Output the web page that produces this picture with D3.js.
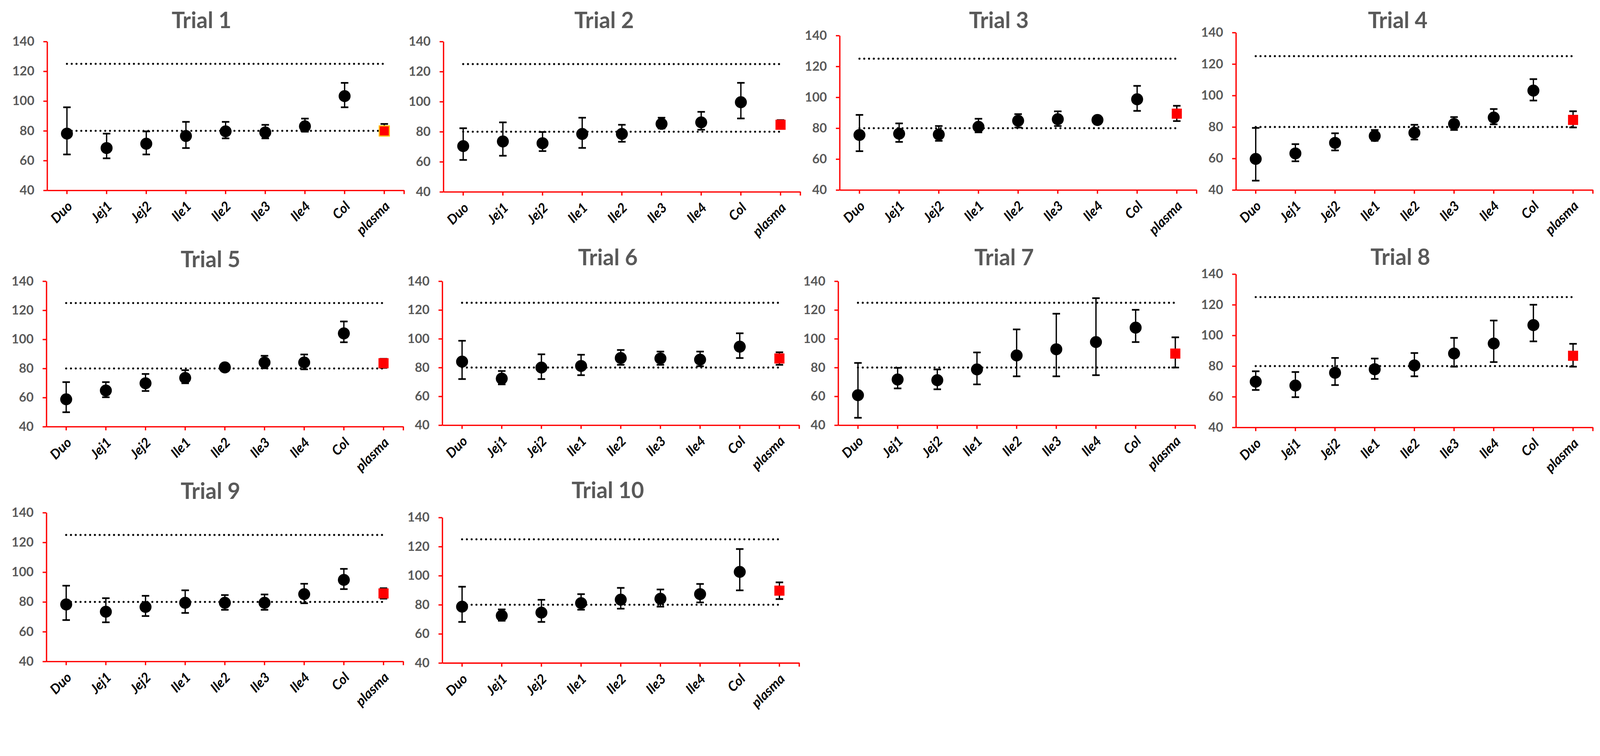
<!DOCTYPE html>
<html>
<head>
<meta charset="utf-8">
<script src="https://cdn.jsdelivr.net/npm/d3@7"></script>
<style>
  html, body { margin: 0; padding: 0; background: #ffffff; overflow: hidden; }
  #chart svg { display: block; width: 100vw; height: 100vh; }
</style>
</head>
<body>
<div id="chart"></div>
<script>
/* Categories and titles. */
const categories = ["Duo", "Jej1", "Jej2", "Ile1", "Ile2", "Ile3", "Ile4", "Col", "plasma"]
const trials = ["Trial 1", "Trial 2", "Trial 3", "Trial 4", "Trial 5",
  "Trial 6", "Trial 7", "Trial 8", "Trial 9", "Trial 10"]

/* Means per trial. */
const means = [
  [78.1, 68.4, 71.3, 76.5, 79.6, 78.9, 83.0, 103.3, 79.9],
  [70.4, 73.5, 72.3, 78.5, 78.5, 85.2, 86.2, 99.6, 84.6],
  [75.6, 76.4, 75.9, 80.9, 84.8, 85.8, 85.3, 98.7, 89.4],
  [59.7, 63.2, 69.9, 74.3, 76.3, 81.9, 86.0, 103.1, 84.5],
  [58.8, 64.8, 69.8, 73.5, 80.7, 84.1, 84.1, 104.1, 83.6],
  [84.1, 72.3, 80.0, 81.1, 86.6, 86.3, 85.5, 94.5, 86.3],
  [60.8, 71.7, 71.2, 78.7, 88.4, 92.7, 97.7, 107.7, 89.7],
  [69.8, 67.3, 75.6, 77.9, 80.4, 88.2, 94.7, 106.7, 86.7],
  [78.3, 73.4, 76.6, 79.4, 79.4, 79.4, 85.2, 94.8, 85.7],
  [78.7, 72.5, 74.6, 81.1, 83.5, 84.1, 87.3, 102.6, 89.7]
]

/* Upper end of each error bar. */
const upper = [
  [95.8, 78.1, 79.6, 86.0, 86.0, 84.0, 88.2, 112.2, 84.6],
  [82.3, 86.2, 79.8, 89.3, 84.6, 89.3, 93.2, 112.5, 87.7],
  [88.6, 83.1, 81.4, 86.1, 89.1, 90.9, 87.0, 107.4, 94.5],
  [79.4, 69.1, 76.0, 78.1, 81.4, 86.3, 91.4, 110.4, 90.0],
  [70.6, 70.6, 76.2, 78.8, 82.0, 88.7, 89.6, 112.3, 86.6],
  [98.6, 77.6, 89.2, 88.9, 92.2, 91.1, 91.1, 103.8, 90.6],
  [83.2, 79.8, 78.7, 90.5, 106.5, 117.4, 128.2, 120.1, 101.0],
  [76.6, 76.1, 85.3, 84.9, 88.5, 98.4, 109.7, 120.0, 94.5],
  [90.9, 82.5, 84.1, 87.8, 84.6, 85.0, 92.2, 102.2, 89.2],
  [92.4, 76.8, 83.4, 87.3, 91.6, 90.5, 94.3, 118.3, 95.4]
]

/* Lower end of each error bar. */
const lower = [
  [64.1, 61.5, 64.1, 68.4, 74.9, 74.9, 79.4, 95.8, 76.8],
  [61.2, 64.0, 67.1, 69.2, 73.3, 82.1, 81.3, 88.8, 81.9],
  [65.1, 71.1, 71.8, 77.3, 80.4, 81.4, 83.5, 91.2, 84.6],
  [45.9, 58.2, 65.1, 71.2, 72.0, 78.1, 81.7, 96.8, 79.7],
  [49.9, 60.2, 64.5, 69.8, 79.5, 80.1, 79.4, 98.0, 80.4],
  [72.0, 68.3, 72.0, 74.7, 81.9, 81.9, 80.9, 86.6, 81.9],
  [45.1, 65.5, 64.9, 68.3, 73.9, 73.9, 74.7, 97.7, 80.0],
  [64.4, 59.7, 67.6, 71.6, 73.3, 79.6, 82.6, 96.1, 79.6],
  [67.8, 66.3, 70.5, 72.6, 74.7, 74.7, 79.1, 88.6, 82.2],
  [68.2, 69.0, 68.2, 76.6, 77.3, 78.7, 81.6, 89.9, 83.9]
]

/* Dotted reference lines and y ticks. */
const refLines = [125, 80]
const yTicks = [40, 60, 80, 100, 120, 140]

/* Where each panel sits: y-axis x, y of 140, y of 40, title centre. */
const panels = [
  { left: 126, top: 111, bottom: 509, tx: 539, ty: 52 },
  { left: 1186, top: 111, bottom: 513, tx: 1616, ty: 52 },
  { left: 2246, top: 95, bottom: 508, tx: 2672, ty: 52 },
  { left: 3306, top: 87, bottom: 508, tx: 3739, ty: 52 },
  { left: 124, top: 752, bottom: 1141, tx: 563, ty: 692 },
  { left: 1183, top: 752, bottom: 1137, tx: 1626, ty: 687 },
  { left: 2242, top: 752, bottom: 1137, tx: 2686, ty: 687 },
  { left: 3306, top: 733, bottom: 1143, tx: 3746, ty: 685 },
  { left: 124, top: 1371, bottom: 1769, tx: 563, ty: 1311 },
  { left: 1183, top: 1384, bottom: 1773, tx: 1626, ty: 1309 }
]

const width = 4280
const height = 1935
const plotWidth = 955
const red = "#ff0000"
const grey = "#595959"
const font = "Lato, 'Open Sans', sans-serif"

/* Create svg-element. The viewBox keeps the whole figure in the window, pinned to the top. */
const svg = d3.select("#chart")
  .append("svg")
  .attr("viewBox", `0 0 ${width} ${height}`)
  .attr("preserveAspectRatio", "xMidYMin meet")

/* Draw every panel. */
trials.forEach((title, t) => {
  const p = panels[t]

  const x = d3.scaleBand()
    .domain(categories)
    .range([0, plotWidth])
    .padding(0)

  const y = d3.scaleLinear()
    .domain([40, 140])
    .range([p.bottom - p.top, 0])

  const g = svg.append("g")
    .attr("transform", `translate(${p.left}, ${p.top})`)

  /* Title. */
  svg.append("text")
    .attr("x", p.tx)
    .attr("y", p.ty)
    .attr("text-anchor", "middle")
    .attr("dominant-baseline", "central")
    .attr("font-family", font)
    .attr("font-weight", "bold")
    .attr("font-size", 59)
    .attr("fill", grey)
    .text(title)

  /* Y axis. */
  const yAxis = g.append("g")
    .call(d3.axisLeft(y).tickValues(yTicks).tickSize(10).tickSizeOuter(0).tickPadding(24))
  yAxis.select(".domain").attr("stroke", red).attr("stroke-width", 3.5)
  yAxis.selectAll(".tick line").attr("stroke", red).attr("stroke-width", 3.5)
  yAxis.selectAll(".tick text")
    .attr("font-family", font)
    .attr("font-weight", "bold")
    .attr("font-size", 34)
    .attr("fill", grey)

  /* X axis. */
  const xAxis = g.append("g")
    .attr("transform", `translate(0, ${y(40)})`)
    .call(d3.axisBottom(x).tickSize(10).tickSizeOuter(0))
  xAxis.select(".domain").attr("stroke", red).attr("stroke-width", 3.5)
  xAxis.selectAll(".tick line").attr("stroke", red).attr("stroke-width", 3.5)
  xAxis.selectAll(".tick text")
    .attr("font-family", font)
    .attr("font-weight", "bold")
    .attr("font-style", "italic")
    .attr("font-size", 36)
    .attr("fill", "#000000")
    .attr("text-anchor", "end")
    .attr("y", 0)
    .attr("dy", "0.35em")
    .attr("transform", "translate(8, 36) rotate(-45)")

  /* Tick at the right end of the category axis. */
  xAxis.append("line")
    .attr("x1", x.range()[1])
    .attr("x2", x.range()[1])
    .attr("y1", 0)
    .attr("y2", 10)
    .attr("stroke", red)
    .attr("stroke-width", 3.5)

  /* Dotted reference lines. */
  const xFirst = x(categories[0]) + x.bandwidth() / 2
  const xLast = x(categories[categories.length - 1]) + x.bandwidth() / 2
  g.selectAll(".ref")
    .data(refLines)
    .enter()
    .append("line")
    .attr("x1", xFirst)
    .attr("x2", xLast)
    .attr("y1", d => y(d))
    .attr("y2", d => y(d))
    .attr("stroke", "#000000")
    .attr("stroke-width", 5.5)
    .attr("stroke-linecap", "round")
    .attr("stroke-dasharray", "0 12.8")

  /* Error bars. */
  const rows = categories.map((c, i) => ({
    cat: c,
    mean: means[t][i],
    hi: upper[t][i],
    lo: lower[t][i]
  }))
  const cx = d => x(d.cat) + x.bandwidth() / 2
  const bars = g.append("g")
    .attr("stroke", "#000000")
    .attr("stroke-width", 3.5)
  bars.selectAll(".stem")
    .data(rows)
    .enter()
    .append("line")
    .attr("x1", cx)
    .attr("x2", cx)
    .attr("y1", d => y(d.hi))
    .attr("y2", d => y(d.lo))
  bars.selectAll(".capHi")
    .data(rows)
    .enter()
    .append("line")
    .attr("x1", d => cx(d) - 10)
    .attr("x2", d => cx(d) + 10)
    .attr("y1", d => y(d.hi))
    .attr("y2", d => y(d.hi))
    .attr("stroke-width", 4.5)
  bars.selectAll(".capLo")
    .data(rows)
    .enter()
    .append("line")
    .attr("x1", d => cx(d) - 10)
    .attr("x2", d => cx(d) + 10)
    .attr("y1", d => y(d.lo))
    .attr("y2", d => y(d.lo))
    .attr("stroke-width", 4.5)

  /* Black round markers for gut segments. */
  g.selectAll(".dot")
    .data(rows.filter(d => d.cat !== "plasma"))
    .enter()
    .append("circle")
    .attr("cx", cx)
    .attr("cy", d => y(d.mean))
    .attr("r", 16)
    .attr("fill", "#000000")

  /* Red square marker for plasma. */
  g.selectAll(".sq")
    .data(rows.filter(d => d.cat === "plasma"))
    .enter()
    .append("rect")
    .attr("x", d => cx(d) - 13.5)
    .attr("y", d => y(d.mean) - 13.5)
    .attr("width", 27)
    .attr("height", 27)
    .attr("fill", red)
    .attr("stroke", t === 0 ? "#ffc000" : "none")
    .attr("stroke-width", 3)
})
</script>
</body>
</html>
